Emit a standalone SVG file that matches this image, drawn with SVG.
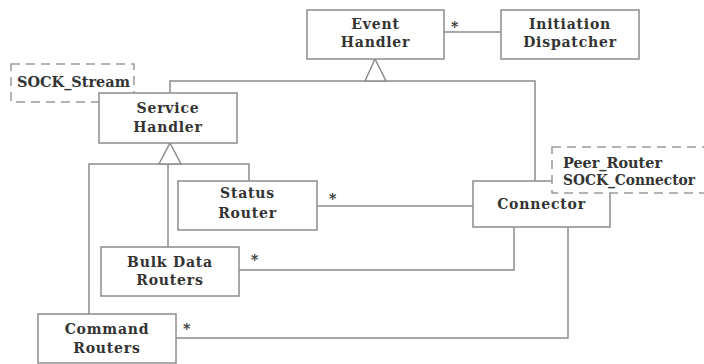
<svg xmlns="http://www.w3.org/2000/svg" width="704" height="364" viewBox="0 0 704 364">
<style>
.box{fill:#fff;stroke:#8c8c8c;stroke-width:1.5}
.dash{fill:#fff;stroke:#9a9a9a;stroke-width:1.5;stroke-dasharray:9 6}
.ln{fill:none;stroke:#8c8c8c;stroke-width:1.5}
.tri{fill:#fff;stroke:#8c8c8c;stroke-width:1.5}
text{font-family:"DejaVu Serif","Liberation Serif",serif;font-weight:bold;font-size:14px;fill:#333;letter-spacing:0.8px}
.c{text-anchor:middle}
.fit{letter-spacing:0}
</style>
<rect width="704" height="364" fill="#fff"/>
<g id="connectors">
<line class="ln" x1="444" y1="32" x2="501" y2="32"/>
<polyline class="ln" points="170,93 170,81 535,81 535,181"/>
<polygon class="tri" points="375,59 365,81 386,81"/>
<polyline class="ln" points="89,314 89,164 249,164 249,181"/>
<line class="ln" x1="168" y1="164" x2="168" y2="247"/>
<polygon class="tri" points="170,143 159,164 181,164"/>
<line class="ln" x1="317" y1="206" x2="473" y2="206"/>
<polyline class="ln" points="239,270 514,270 514,227"/>
<polyline class="ln" points="176,338 568,338 568,227"/>
<text x="455" y="32" class="c">*</text>
<text x="333" y="204" class="c">*</text>
<text x="255" y="265" class="c">*</text>
<text x="187" y="334" class="c">*</text>
</g>
<g id="event-handler">
<rect class="box" x="307" y="10" width="137" height="49"/>
<text x="375.5" y="29" class="c">Event</text>
<text x="375.5" y="47" class="c">Handler</text>
</g>
<g id="initiation-dispatcher">
<rect class="box" x="501" y="10" width="138" height="49"/>
<text x="570" y="29" class="c">Initiation</text>
<text x="570" y="47" class="c">Dispatcher</text>
</g>
<g id="sock-stream">
<rect class="dash" x="11" y="64" width="123" height="38"/>
<text x="17" y="87" class="fit" textLength="113" lengthAdjust="spacingAndGlyphs">SOCK_Stream</text>
</g>
<g id="service-handler">
<rect class="box" x="99" y="93" width="138" height="50"/>
<text x="168" y="113" class="c">Service</text>
<text x="168" y="132" class="c">Handler</text>
</g>
<g id="status-router">
<rect class="box" x="178" y="181" width="139" height="49"/>
<text x="247.5" y="198" class="c">Status</text>
<text x="247.5" y="218" class="c">Router</text>
</g>
<g id="connector">
<rect class="box" x="473" y="181" width="137" height="46"/>
<text x="541.5" y="209" class="c">Connector</text>
</g>
<g id="peer-router">
<rect class="dash" x="552" y="147" width="160" height="46"/>
<text x="563" y="168" class="fit" textLength="99" lengthAdjust="spacingAndGlyphs">Peer_Router</text>
<text x="563" y="185" class="fit" textLength="132" lengthAdjust="spacingAndGlyphs">SOCK_Connector</text>
</g>
<g id="bulk-data-routers">
<rect class="box" x="101" y="247" width="138" height="49"/>
<text x="170" y="267" class="c">Bulk Data</text>
<text x="170" y="285" class="c">Routers</text>
</g>
<g id="command-routers">
<rect class="box" x="38" y="314" width="138" height="49"/>
<text x="107" y="334" class="c">Command</text>
<text x="107" y="353" class="c">Routers</text>
</g>
</svg>
